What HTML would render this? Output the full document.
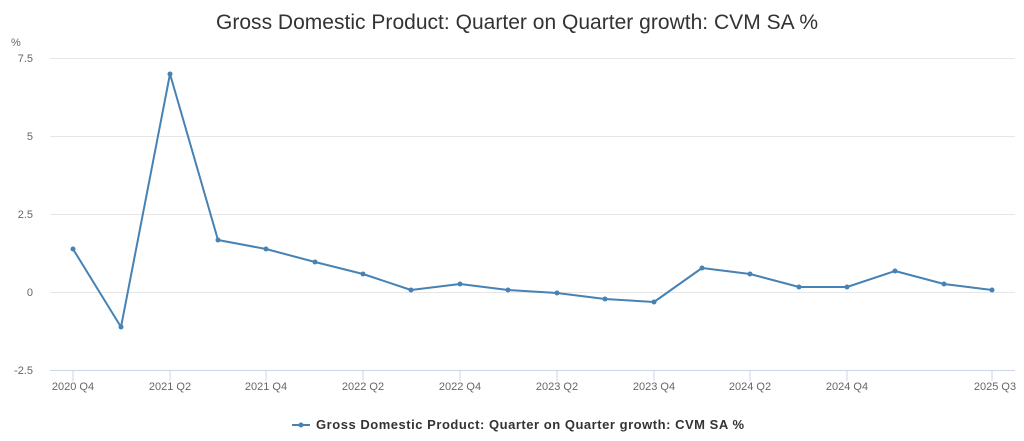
<!DOCTYPE html>
<html><head><style>
body{margin:0;background:#fff;font-family:"Liberation Sans",sans-serif;}
</style></head><body>
<svg width="1024" height="436" viewBox="0 0 1024 436" xmlns="http://www.w3.org/2000/svg" font-family="Liberation Sans, sans-serif">
<text x="517" y="29" text-anchor="middle" font-size="21" textLength="602" fill="#333">Gross Domestic Product: Quarter on Quarter growth: CVM SA %</text>
<text x="11" y="46" font-size="11" fill="#666">%</text>
<g stroke="#e6e6e6" stroke-width="1">
<line x1="50" x2="1015" y1="58.5" y2="58.5"/>
<line x1="50" x2="1015" y1="136.5" y2="136.5"/>
<line x1="50" x2="1015" y1="214.5" y2="214.5"/>
<line x1="50" x2="1015" y1="292.5" y2="292.5"/>
</g>
<line x1="50" x2="1015" y1="370.5" y2="370.5" stroke="#ccd6eb"/>
<g font-size="11" fill="#666" text-anchor="end">
<text x="33" y="62">7.5</text>
<text x="33" y="140">5</text>
<text x="33" y="218">2.5</text>
<text x="33" y="296">0</text>
<text x="33" y="374">-2.5</text>
</g>
<g stroke="#ccd6eb">
<line x1="73" x2="73" y1="371" y2="381"/>
<line x1="170" x2="170" y1="371" y2="381"/>
<line x1="266" x2="266" y1="371" y2="381"/>
<line x1="363" x2="363" y1="371" y2="381"/>
<line x1="460" x2="460" y1="371" y2="381"/>
<line x1="557" x2="557" y1="371" y2="381"/>
<line x1="654" x2="654" y1="371" y2="381"/>
<line x1="750" x2="750" y1="371" y2="381"/>
<line x1="847" x2="847" y1="371" y2="381"/>
<line x1="992" x2="992" y1="371" y2="381"/>
</g>
<g font-size="11" fill="#666" text-anchor="middle">
<text x="73" y="390">2020 Q4</text>
<text x="170" y="390">2021 Q2</text>
<text x="266" y="390">2021 Q4</text>
<text x="363" y="390">2022 Q2</text>
<text x="460" y="390">2022 Q4</text>
<text x="557" y="390">2023 Q2</text>
<text x="654" y="390">2023 Q4</text>
<text x="750" y="390">2024 Q2</text>
<text x="847" y="390">2024 Q4</text>
<text x="995" y="390">2025 Q3</text>
</g>
<polyline fill="none" stroke="#4682b4" stroke-width="2" stroke-linejoin="round" points="73,249 121,327 170,74 218,240 266,249 315,262 363,274 411,290 460,284 508,290 557,293 605,299 654,302 702,268 750,274 799,287 847,287 895,271 944,284 992,290"/>
<g fill="#4682b4">
<circle cx="73" cy="249" r="2.5"/><circle cx="121" cy="327" r="2.5"/><circle cx="170" cy="74" r="2.5"/><circle cx="218" cy="240" r="2.5"/><circle cx="266" cy="249" r="2.5"/><circle cx="315" cy="262" r="2.5"/><circle cx="363" cy="274" r="2.5"/><circle cx="411" cy="290" r="2.5"/><circle cx="460" cy="284" r="2.5"/><circle cx="508" cy="290" r="2.5"/><circle cx="557" cy="293" r="2.5"/><circle cx="605" cy="299" r="2.5"/><circle cx="654" cy="302" r="2.5"/><circle cx="702" cy="268" r="2.5"/><circle cx="750" cy="274" r="2.5"/><circle cx="799" cy="287" r="2.5"/><circle cx="847" cy="287" r="2.5"/><circle cx="895" cy="271" r="2.5"/><circle cx="944" cy="284" r="2.5"/><circle cx="992" cy="290" r="2.5"/>
</g>
<line x1="292" x2="310" y1="425" y2="425" stroke="#4682b4" stroke-width="2"/>
<circle cx="301" cy="425" r="2.5" fill="#4682b4"/>
<text x="316" y="429" font-size="13" font-weight="bold" textLength="428" fill="#333">Gross Domestic Product: Quarter on Quarter growth: CVM SA %</text>
</svg>
</body></html>
